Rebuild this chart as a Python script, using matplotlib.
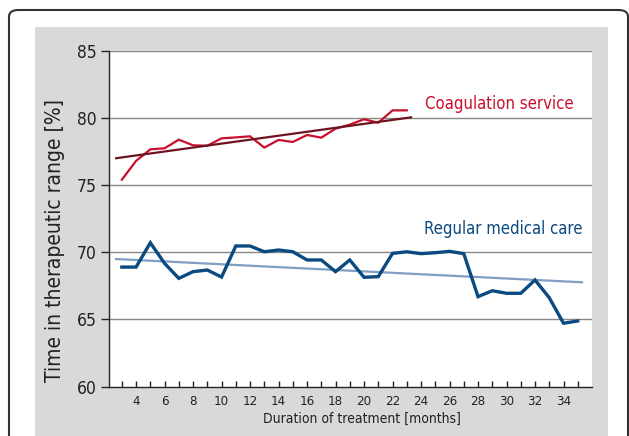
import matplotlib
matplotlib.use("Agg")
import matplotlib.pyplot as plt
from matplotlib.patches import Rectangle, FancyBboxPatch
from matplotlib import font_manager

# ---- data ----
months_coag = list(range(3, 24))
coag = [75.4, 76.8, 77.66, 77.74, 78.38, 77.96, 77.93, 78.48, 78.55, 78.63,
        77.79, 78.36, 78.21, 78.73, 78.53, 79.2, 79.5, 79.9, 79.64, 80.56, 80.56]
coag_trend_x = [2.6, 23.3]
coag_trend_y = [77.0, 80.04]

months_reg = list(range(3, 36))
reg = [68.9, 68.9, 70.71, 69.18, 68.06, 68.56, 68.68, 68.16, 70.47, 70.47,
       70.04, 70.17, 70.04, 69.43, 69.43, 68.56, 69.43, 68.14, 68.19, 69.92,
       70.04, 69.9, 69.97, 70.07, 69.9, 66.7, 67.14, 66.95, 66.95, 67.94,
       66.62, 64.72, 64.89]
reg_trend_x = [2.6, 35.3]
reg_trend_y = [69.5, 67.77]

xticks_minor = list(range(3, 36))
xtick_labels = [4, 6, 8, 10, 12, 14, 16, 18, 20, 22, 24, 26, 28, 30, 32, 34]
yticks = [60, 65, 70, 75, 80, 85]

# pick a condensed / narrow sans font if one is installed
cands = []
for f in font_manager.fontManager.ttflist:
    nm = f.name + ' ' + str(f.fname)
    narrow = ('Condensed' in nm or 'Narrow' in nm or str(f.stretch) in ('condensed', 'semi-condensed'))
    if narrow and f.style == 'normal' and str(f.weight) in ('400', 'normal', 'regular') \
            and 'Mono' not in nm and 'Serif' not in nm and 'Bold' not in nm and 'Light' not in nm:
        cands.append(f)
if cands:
    fp = font_manager.FontProperties(fname=cands[0].fname)
else:
    fp = font_manager.FontProperties(family=['Liberation Sans', 'DejaVu Sans'])


def fsz(size):
    p = fp.copy()
    p.set_size(size)
    return p


W, H = 629, 436
fig = plt.figure(figsize=(W / 100, H / 100), dpi=100)
fig.patch.set_facecolor('white')

border = FancyBboxPatch((9 / W, 0 - 0.1), (628 - 9) / W, (H - 10) / H + 0.1,
                        boxstyle="round,pad=0,rounding_size=0.015",
                        transform=fig.transFigure, facecolor='white',
                        edgecolor='#333333', linewidth=1.5, zorder=-2)
fig.patches.append(border)
panel = Rectangle((35 / W, 0), (608 - 35) / W, (H - 27) / H,
                  transform=fig.transFigure, facecolor='#d9d9d9',
                  edgecolor='none', zorder=-1)
fig.patches.append(panel)

ax = fig.add_axes([109 / W, 1 - 386.7 / H, (592 - 109) / W, (386.7 - 50.7) / H])
ax.set_zorder(5)
ax.set_facecolor('white')
ax.set_xlim(2.1, 36)
ax.set_ylim(60, 85)

for y in yticks[1:]:
    ax.axhline(y, color='#888888', lw=1.0, zorder=1)

ax.plot(months_coag, coag, color='#c8102e', lw=1.6, zorder=3, solid_joinstyle='miter')
ax.plot(coag_trend_x, coag_trend_y, color='#6e1420', lw=1.6, zorder=4)
ax.plot(reg_trend_x, reg_trend_y, color='#7f9fc4', lw=1.6, zorder=3)
ax.plot(months_reg, reg, color='#0b4a80', lw=2.4, zorder=4, solid_joinstyle='miter')

ax.text(24.25, 81.03, 'Coagulation service', color='#c8102e',
        va='center', ha='left', fontproperties=fsz(12))
ax.text(35.35, 71.76, 'Regular medical care', color='#0b4a80',
        va='center', ha='right', fontproperties=fsz(12))

for s in ['top', 'right']:
    ax.spines[s].set_visible(False)
for s in ['left', 'bottom']:
    ax.spines[s].set_color('#222222')
    ax.spines[s].set_linewidth(1.0)

ax.set_yticks(yticks)
ax.set_yticklabels([str(v) for v in yticks], color='#222222', fontproperties=fsz(12.5))
ax.tick_params(axis='y', direction='out', length=6, width=1, color='#222222', pad=3)

ax.set_xticks(xticks_minor, minor=True)
ax.set_xticks(xtick_labels)
ax.set_xticklabels([str(v) for v in xtick_labels], color='#222222', fontproperties=fsz(9.5))
ax.tick_params(axis='x', which='both', direction='in', length=4, width=1,
               color='#222222', pad=6)

xl = ax.set_xlabel('Duration of treatment [months]', color='#222222',
                   fontproperties=fsz(10))
xl.set_va('center')
ax.xaxis.set_label_coords((361.5 - 109) / 483, -(419 - 386.7) / 336)

yl = ax.set_ylabel('Time in therapeutic range [%]', color='#222222',
                   fontproperties=fsz(15))
yl.set_va('center')
ax.yaxis.set_label_coords((55 - 109) / 483, 1 - (240 - 50.7) / 336)

fig.savefig('out.png', dpi=100, facecolor='white')
